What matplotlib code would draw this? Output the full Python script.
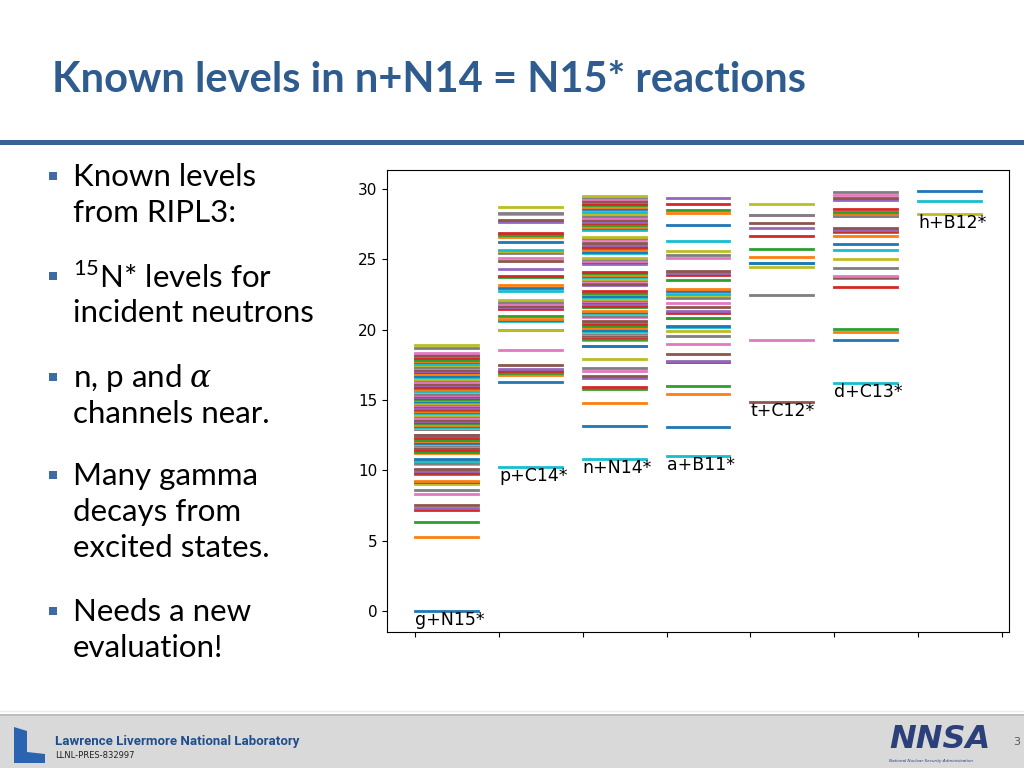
import matplotlib.pyplot as plt
from matplotlib.patches import Rectangle, Polygon

plt.rcParams['mathtext.fontset'] = 'custom'
plt.rcParams['mathtext.rm'] = 'Lato'
plt.rcParams['mathtext.it'] = 'DejaVu Serif:italic'

# ---------------------------------------------------------------
# Level energies (MeV) for each channel
# ---------------------------------------------------------------
channels = ['g+N15*', 'p+C14*', 'n+N14*', 'a+B11*', 't+C12*', 'd+C13*', 'h+B12*']

g_N15 = [0.0, 5.27, 6.32, 7.16, 7.30, 7.57, 8.31, 8.57, 9.05, 9.15, 9.16, 9.22,
         9.76, 9.79, 9.93, 10.07, 10.45, 10.53, 10.69, 10.70, 10.80,
         11.24, 11.29, 11.44, 11.57, 11.62, 11.76, 11.78, 11.88, 11.94, 11.97,
         12.10, 12.15, 12.33, 12.49, 12.52,
         12.92, 12.94, 13.00, 13.07, 13.17, 13.26, 13.36, 13.45, 13.52, 13.61,
         13.72, 13.84, 13.93, 14.09, 14.16, 14.24, 14.30, 14.39, 14.47, 14.55,
         14.62, 14.72, 14.78, 14.83, 14.92, 15.00, 15.05, 15.13, 15.21, 15.29,
         15.37, 15.45, 15.57, 15.66, 15.76, 15.82, 15.88, 15.95, 16.06, 16.17,
         16.30, 16.42, 16.50, 16.64, 16.73, 16.85, 16.97, 17.03, 17.10, 17.17,
         17.25, 17.37, 17.47, 17.56, 17.69, 17.78, 17.87, 17.98, 18.12, 18.24,
         18.35, 18.70, 18.91]

p_C14 = [10.21, 16.30, 16.77, 16.92, 17.05, 17.18, 17.53, 18.55, 19.95, 20.01,
         20.63, 20.71, 20.80, 20.99, 21.51, 21.60, 21.66, 21.80, 21.98, 22.15,
         22.79, 22.98, 23.17, 23.74, 23.86, 24.31, 24.92, 25.11, 25.49, 25.58,
         25.66, 26.25, 26.63, 26.77, 26.89, 27.67, 27.79, 28.22, 28.34, 28.73]

n_N14 = [10.83, 13.14, 14.80, 15.76, 15.90, 16.58, 16.70, 17.04, 17.27, 17.89,
         18.82, 18.86,
         19.26, 19.34, 19.47, 19.55, 19.62, 19.70, 19.78, 19.85, 19.93, 20.02,
         20.10, 20.30, 20.42, 20.55, 20.63,
         20.92, 21.01, 21.10, 21.18, 21.27, 21.36,
         21.62, 21.70, 21.86, 21.95, 22.03, 22.12, 22.20, 22.31, 22.40, 22.52,
         22.63, 22.74,
         23.18, 23.27, 23.45, 23.55, 23.64, 23.73, 23.83, 23.92, 24.03, 24.14,
         24.68, 24.79, 24.90, 25.02, 25.13,
         25.45, 25.56, 25.68, 25.80, 25.91, 26.02, 26.14, 26.37, 26.50, 26.61,
         27.12, 27.22, 27.33, 27.45, 27.58, 27.70, 27.82, 27.95, 28.07, 28.21,
         28.36,
         28.62, 28.75, 28.86, 28.97, 29.08, 29.19, 29.30, 29.41, 29.53]

a_B11 = [10.99, 13.12, 15.44, 16.01, 17.73, 17.79, 18.28, 18.97, 19.55, 19.91,
         20.18, 20.26, 20.81, 20.87, 21.16, 21.32, 21.63, 21.94, 22.27, 22.46,
         22.58, 22.74, 22.93, 23.53, 23.88, 24.05, 24.16, 25.07, 25.35, 25.59,
         26.30, 27.43, 28.31, 28.50, 28.97, 29.37]

t_C12 = [14.85, 19.29, 22.50, 24.49, 24.72, 24.78, 25.18, 25.71, 26.70, 27.27,
         27.60, 28.17, 28.19, 28.98]

d_C13 = [16.18, 19.26, 19.83, 20.04, 23.05, 23.65, 23.76, 23.86, 24.38, 25.04,
         25.68, 26.08, 26.65, 26.97, 27.01, 27.13, 27.22, 28.07, 28.12, 28.20,
         28.24, 28.28, 28.31, 28.36, 28.62, 29.21, 29.40, 29.57, 29.80]

h_B12 = [28.26, 29.16, 29.87]

levels = [g_N15, p_C14, n_N14, a_B11, t_C12, d_C13, h_B12]

bullets = [
    ['Known levels', 'from RIPL3:'],
    [r'$^{15}$N* levels for', 'incident neutrons'],
    [r'n, p and $\alpha$', 'channels near.'],
    ['Many gamma', 'decays from', 'excited states.'],
    ['Needs a new', 'evaluation!'],
]
bullet_y = [177, 277, 378, 476, 612]

# ---------------------------------------------------------------
# Slide background (pixel coordinates)
# ---------------------------------------------------------------
W, H = 1024, 768
fig = plt.figure(figsize=(10.24, 7.68), dpi=100)
bg = fig.add_axes([0, 0, 1, 1])
bg.set_xlim(0, W)
bg.set_ylim(H, 0)
bg.axis('off')

bg.text(52, 80, 'Known levels in n+N14 = N15* reactions', fontsize=30,
        fontweight='bold', color='#2F5C8F', family='Lato', va='center')
bg.add_patch(Rectangle((0, 139.5), W, 5, color='#3A6294', lw=0))

for lines, y0 in zip(bullets, bullet_y):
    bg.add_patch(Rectangle((49, y0 - 5), 8, 8, color='#3E6BA6', lw=0))
    for k, s in enumerate(lines):
        bg.text(73, y0 + 36 * k, s, fontsize=22.5, family='Lato',
                color='black', va='center')

# footer
bg.add_patch(Rectangle((0, 716), W, 52, color='#D9D9D9', lw=0))
bg.plot([0, W], [715, 715], color='#B0B0B0', lw=1.2)
bg.plot([0, W], [711, 711], color='#EBEBEB', lw=1)
bg.add_patch(Polygon([(14, 727), (27, 731), (27, 752), (45, 754), (45, 763), (14, 763)],
                     closed=True, color='#2A64B0', lw=0))
bg.text(55, 742, 'Lawrence Livermore National Laboratory', fontsize=9.5,
        fontweight='bold', color='#1F4E8C',
        family=['Liberation Sans Narrow', 'Roboto'], va='center')
bg.text(55, 756, 'LLNL-PRES-832997', fontsize=6, color='#222222',
        family=['Liberation Sans Narrow', 'DejaVu Sans'], va='center')
bg.text(889, 739, 'NNSA', fontsize=23, fontweight='bold', style='italic',
        color='#2B3F7A', family='DejaVu Sans', va='center')
bg.text(889, 761, 'National Nuclear Security Administration', fontsize=3,
        style='italic', color='#2B3F7A', va='center')
bg.text(1013, 742, '3', fontsize=8, color='#595959', va='center')

# ---------------------------------------------------------------
# Level diagram
# ---------------------------------------------------------------
ax = fig.add_axes([387 / W, 1 - 632 / H, 622 / W, 462 / H])
for i, (name, lev) in enumerate(zip(channels, levels)):
    for e in lev:
        ax.plot([i, i + 0.75], [e, e], lw=2)
    ax.text(i, lev[0], name, fontsize=12.5, ha='left', va='top')

ax.set_xticks(range(8))
ax.set_xticklabels([])
ax.tick_params(axis='y', labelsize=11)

fig.savefig('out.png', dpi=100)
